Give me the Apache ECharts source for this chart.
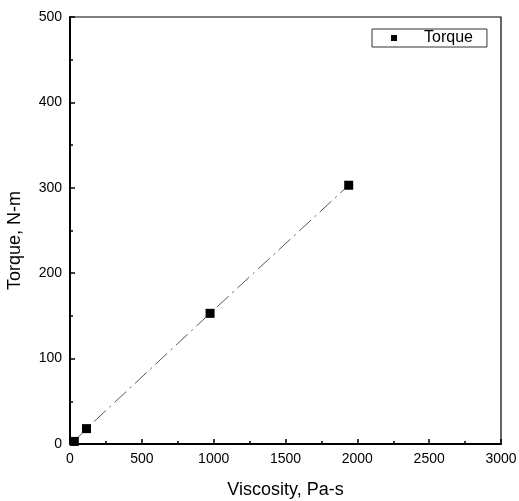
<!DOCTYPE html>
<html>
<head>
<meta charset="utf-8">
<script src="https://cdn.jsdelivr.net/npm/echarts@6/dist/echarts.min.js"></script>
<style>
  html, body { margin: 0; padding: 0; background: #fff; }
  #chart { width: 519px; height: 501px; }
</style>
</head>
<body>
<div id="chart"></div>
<script>
// data
const viscosity = [30, 115, 975, 1940];
const torque = [3, 18, 153, 303];
const xTicks = [0, 500, 1000, 1500, 2000, 2500, 3000];
const yTicks = [0, 100, 200, 300, 400, 500];

const font = 'Liberation Sans, Arial, sans-serif';
const points = viscosity.map((v, i) => [v, torque[i]]);

const chart = echarts.init(document.getElementById('chart'));
chart.setOption({
  animation: false,
  grid: {
    left: 70, top: 17, right: 18, bottom: 57,
    outerBoundsMode: 'none', containLabel: false,
    show: true, borderColor: '#000', borderWidth: 1.2
  },
  legend: {
    left: 372, top: 29,
    padding: [1, 14, 1, 19],
    borderColor: '#333', borderWidth: 1,
    icon: 'rect', itemWidth: 6, itemHeight: 6,
    textStyle: { fontFamily: font, fontSize: 16, lineHeight: 16, color: '#000', padding: [0, 0, 0, 22] },
    data: ['Torque']
  },
  xAxis: {
    type: 'value', min: xTicks[0], max: xTicks[xTicks.length - 1], interval: 500,
    name: 'Viscosity, Pa-s', nameLocation: 'middle', nameGap: 37,
    nameTextStyle: { fontFamily: font, fontSize: 18, color: '#000' },
    axisLine: { onZero: false, lineStyle: { color: '#000', width: 2 } },
    axisTick: { inside: true, length: 5, lineStyle: { color: '#000', width: 1.5 } },
    minorTick: { show: true, splitNumber: 2, length: 3, lineStyle: { color: '#000', width: 1.5 } },
    axisLabel: { fontFamily: font, fontSize: 14, color: '#000', margin: 8, formatter: v => String(v) },
    splitLine: { show: false }
  },
  yAxis: {
    type: 'value', min: yTicks[0], max: yTicks[yTicks.length - 1], interval: 100,
    name: 'Torque, N-m', nameLocation: 'middle', nameGap: 46,
    nameTextStyle: { fontFamily: font, fontSize: 18, color: '#000', padding: [0, 20, 0, 0] },
    axisLine: { onZero: false, lineStyle: { color: '#000', width: 2 } },
    axisTick: { inside: true, length: 5, lineStyle: { color: '#000', width: 1.5 } },
    minorTick: { show: true, splitNumber: 2, length: 3, lineStyle: { color: '#000', width: 1.5 } },
    axisLabel: { fontFamily: font, fontSize: 14, color: '#000', margin: 8, formatter: v => String(v) },
    splitLine: { show: false }
  },
  series: [{
    name: 'Torque',
    type: 'line',
    data: points,
    symbol: 'rect',
    symbolSize: 9,
    itemStyle: { color: '#000' },
    lineStyle: { color: '#555', width: 1, type: [16, 5, 2, 5] }
  }]
});
</script>
</body>
</html>
